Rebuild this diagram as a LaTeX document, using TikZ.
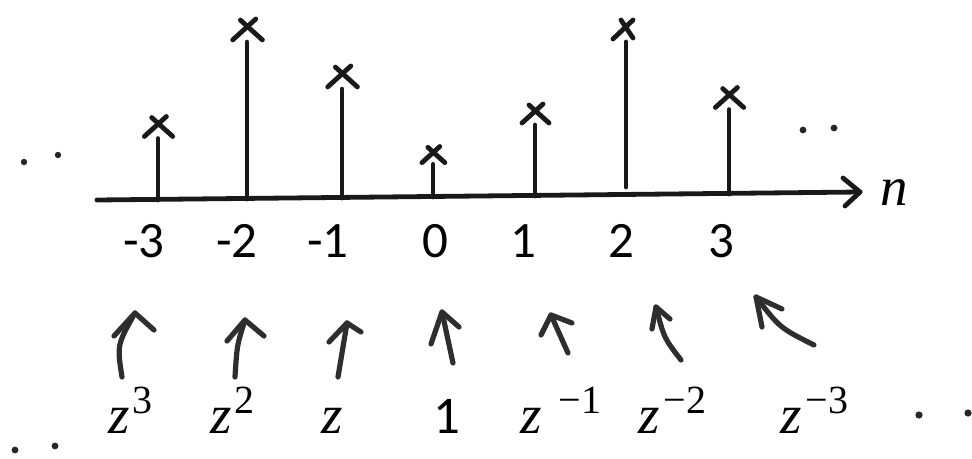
\documentclass[tikz,border=0pt]{standalone}
\usepackage{fontspec}
\setmainfont{Carlito}
\newfontfamily\zserif{Liberation Serif}
\begin{document}
\begin{tikzpicture}[x=1pt,y=-1pt,
  ink/.style={line width=4.8pt,line cap=round,line join=round,draw=black!90},
  hand/.style={line width=5.2pt,line cap=round,line join=round,draw=black!82},
  numlab/.style={font=\fontsize{51}{60}\selectfont,anchor=base,inner sep=0pt},
  zlab/.style={font=\fontsize{55}{60}\selectfont\zserif\itshape,anchor=base west,inner sep=0pt},
  dotmark/.style={fill=black!85,draw=none}]
\useasboundingbox[fill=white] (0,0) rectangle (972,458);
\newcommand{\sups}[1]{\raisebox{20pt}{\fontsize{40}{44}\selectfont\upshape #1}}
% axis
\coordinate (ax0) at (97,200);
\coordinate (ax1) at (860,192);
\draw[ink] (ax0) -- (ax1);
\coordinate (ahu) at (843,178);
\coordinate (ahl) at (845,206);
\draw[ink] (ahu) -- (ax1) -- (ahl);
\node[font=\fontsize{55}{60}\selectfont\zserif\itshape,anchor=base west,inner sep=0pt] (nlab) at (880,205) {n};
% stems
\foreach \nm/\x/\yb/\yt/\s in {m3/158/200/127/1.05, m2/247/199/30/1.1, m1/342/198/77/1.1, z0/433/197/155/0.85, p1/535/196/114/1, p3/729/194/98/1.05} {
  \coordinate (b\nm) at (\x,\yb);
  \coordinate (t\nm) at (\x,\yt);
  \draw[ink] (b\nm) -- ([yshift=-11*\s]t\nm);
  \draw[ink] ([shift={(-13*\s,9*\s)}]t\nm) -- ([shift={(8*\s,-10*\s)}]t\nm);
  \draw[ink] ([shift={(-6*\s,-9*\s)}]t\nm) -- ([shift={(14*\s,9*\s)}]t\nm);
}
\coordinate (bp2) at (626,187);
\coordinate (tp2) at (626,30);
\draw[ink] (bp2) -- ([yshift=-12]tp2);
\draw[ink] ([shift={(-13,9)}]tp2) -- ([shift={(7,-10)}]tp2);
\draw[ink] ([shift={(-5,-10)}]tp2) -- ([shift={(7,8)}]tp2);
% index labels
\node[numlab] (lm3) at (144,257) {-3};
\node[numlab] (lm2) at (237,257) {-2};
\node[numlab] (lm1) at (328,257) {-1};
\node[numlab] (l0) at (435,257) {0};
\node[numlab] (lp1) at (523,257) {1};
\node[numlab] (lp2) at (621,257) {2};
\node[numlab] (lp3) at (721,257) {3};
% hand arrows
\coordinate (am3b) at (122,377); \coordinate (am3t) at (135,313);
\draw[hand] (am3b) .. controls (117,345) .. (am3t);
\draw[hand] (114,336) -- (am3t) -- (154,330);
\coordinate (am2b) at (235,377); \coordinate (am2t) at (245,320);
\draw[hand] (am2b) .. controls (237,345) .. (am2t);
\draw[hand] (227,341) -- (am2t) -- (264,336);
\coordinate (am1b) at (338,377); \coordinate (am1t) at (347,323);
\draw[hand] (am1b) -- (am1t);
\draw[hand] (329,342) -- (am1t) -- (361,332);
\coordinate (a0b) at (453,363); \coordinate (a0t) at (442,312);
\draw[hand] (a0b) -- (a0t);
\draw[hand] (431,344) -- (a0t) -- (459,327);
\coordinate (ap1b) at (568,353); \coordinate (ap1t) at (551,315);
\draw[hand] (ap1b) -- (ap1t);
\draw[hand] (541,335) -- (ap1t) -- (572,323);
\coordinate (ap2b) at (681,360); \coordinate (ap2t) at (656,307);
\draw[hand] (ap2b) .. controls (664,338) .. (ap2t);
\draw[hand] (652,329) -- (ap2t) -- (670,319);
\coordinate (ap3b) at (814,345); \coordinate (ap3t) at (756,297);
\draw[hand] (ap3b) .. controls (780,328) .. (ap3t);
\draw[hand] (762,327) -- (ap3t) -- (782,309);
% z labels
\node[zlab] (zm3) at (108,433) {z\kern3pt\sups{3}};
\node[zlab] (zm2) at (210,433) {z\kern3pt\sups{2}};
\node[zlab] (zm1) at (321,433) {z};
\node[font=\fontsize{53}{60}\selectfont,anchor=base,inner sep=0pt] (one) at (447,433) {1};
\node[zlab] (zp1) at (520,433) {z\kern17pt\sups{−1}};
\node[zlab] (zp2) at (638,433) {z\kern4pt\sups{−2}};
\node[zlab] (zp3) at (780,433) {z\kern4pt\sups{−3}};
% ellipsis dots
\fill[dotmark] (24,162) circle (3.2);
\fill[dotmark] (58,155) circle (3.2);
\fill[dotmark] (803,130) circle (3.4);
\fill[dotmark] (834,128) circle (3.4);
\fill[dotmark] (15,450) circle (3.4);
\fill[dotmark] (55,446) circle (3.4);
\fill[dotmark] (919,415) circle (3.6);
\fill[dotmark] (968,413) circle (3.6);
\end{tikzpicture}
\end{document}
